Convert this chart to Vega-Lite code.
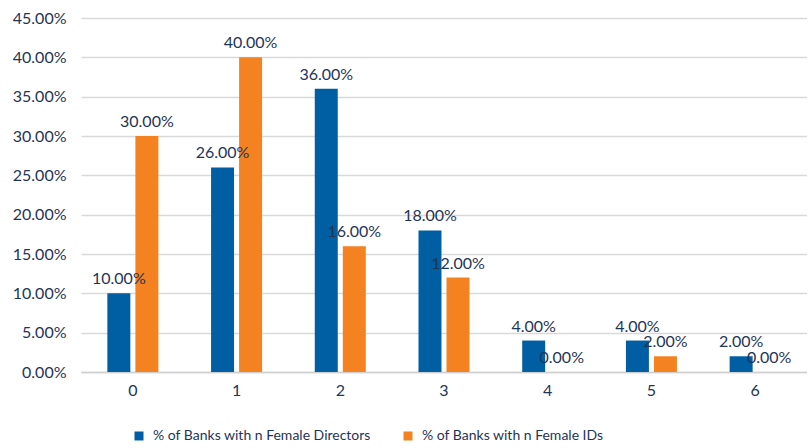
{
  "$schema": "https://vega.github.io/schema/vega-lite/v6.json",
  "width": 726,
  "height": 354,
  "padding": {"left": 12, "top": 10, "right": 0, "bottom": 4},
  "background": "white",
  "config": {
    "font": "Lato",
    "view": {"stroke": null},
    "axis": {"labelFont": "Lato", "labelFontSize": 16, "labelColor": "#1f3557"},
    "legend": {"labelFont": "Lato", "labelFontSize": 14, "labelColor": "#1f3557"}
  },
  "data": {
    "values": [
      {"n": "0", "series": "% of Banks with n Female Directors", "value": 0.10},
      {"n": "0", "series": "% of Banks with n Female IDs", "value": 0.30},
      {"n": "1", "series": "% of Banks with n Female Directors", "value": 0.26},
      {"n": "1", "series": "% of Banks with n Female IDs", "value": 0.40},
      {"n": "2", "series": "% of Banks with n Female Directors", "value": 0.36},
      {"n": "2", "series": "% of Banks with n Female IDs", "value": 0.16},
      {"n": "3", "series": "% of Banks with n Female Directors", "value": 0.18},
      {"n": "3", "series": "% of Banks with n Female IDs", "value": 0.12},
      {"n": "4", "series": "% of Banks with n Female Directors", "value": 0.04},
      {"n": "4", "series": "% of Banks with n Female IDs", "value": 0.00},
      {"n": "5", "series": "% of Banks with n Female Directors", "value": 0.04},
      {"n": "5", "series": "% of Banks with n Female IDs", "value": 0.02},
      {"n": "6", "series": "% of Banks with n Female Directors", "value": 0.02},
      {"n": "6", "series": "% of Banks with n Female IDs", "value": 0.00}
    ]
  },
  "encoding": {
    "x": {
      "field": "n", "type": "nominal", "sort": null,
      "scale": {"paddingInner": 0, "paddingOuter": 0},
      "axis": {"title": null, "labelAngle": 0, "ticks": false, "labelPadding": 10, "domainColor": "#d0d0d0", "domainWidth": 1.5, "grid": false}
    },
    "xOffset": {
      "field": "series", "type": "nominal",
      "scale": {"paddingInner": 0.18, "paddingOuter": 0.94}
    },
    "y": {
      "field": "value", "type": "quantitative",
      "scale": {"domain": [0, 0.45]},
      "axis": {"title": null, "format": ".2%", "values": [0, 0.05, 0.1, 0.15, 0.2, 0.25, 0.3, 0.35, 0.4, 0.45], "domain": false, "ticks": false, "labelPadding": 15, "gridColor": "#d9d9d9", "gridWidth": 1.5}
    }
  },
  "layer": [
    {
      "mark": {"type": "bar"},
      "encoding": {
        "color": {
          "field": "series", "type": "nominal",
          "scale": {"range": ["#005ea2", "#f58220"]},
          "legend": {"title": null, "orient": "none", "legendX": 51, "legendY": 411, "direction": "horizontal", "symbolType": "square", "symbolSize": 81, "columnPadding": 30, "labelOffset": 7, "symbolStrokeWidth": 0, "labelLimit": 0}
        }
      }
    },
    {
      "mark": {"type": "text", "baseline": "bottom", "align": "center", "dy": -6, "fontSize": 16, "color": "#1f3557", "font": "Lato"},
      "encoding": {
        "text": {"field": "value", "type": "quantitative", "format": ".2%"}
      }
    }
  ]
}
